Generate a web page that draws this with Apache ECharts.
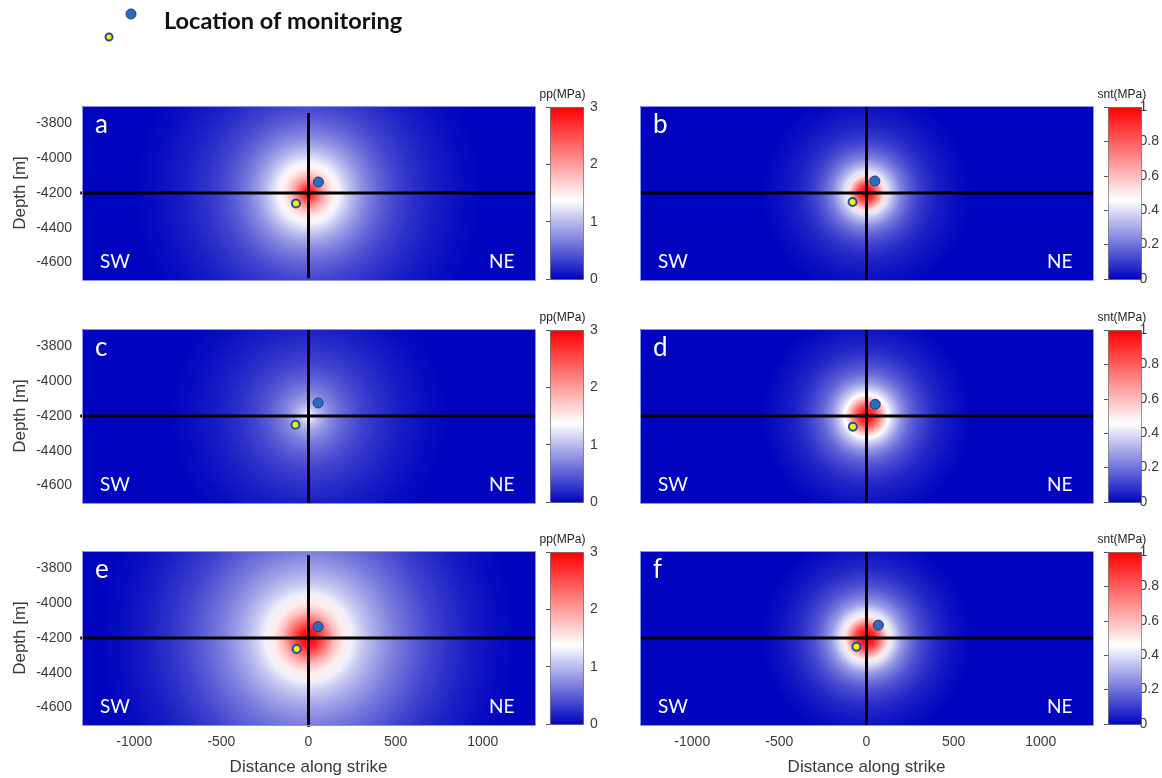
<!DOCTYPE html>
<html><head><meta charset="utf-8">
<script src="https://cdn.jsdelivr.net/npm/echarts@6/dist/echarts.min.js"></script>
<style>html,body{margin:0;padding:0;background:#fff}#chart{width:1162px;height:778px}</style>
</head><body><div id="chart"></div>
<script>
// ---------------- data ----------------
const panelLetters = ['a', 'b', 'c', 'd', 'e', 'f'];
const panelQuantity = ['pp', 'snt', 'pp', 'snt', 'pp', 'snt'];
const xTicks = [-1000, -500, 0, 500, 1000];
const yTicks = [-4600, -4400, -4200, -4000, -3800];
const ppTicks = [0, 1, 2, 3];
const sntTicks = [0, 0.2, 0.4, 0.6, 0.8, 1];
const xRange = [-1300, 1300];
const yRange = [-4700, -3700];
const sourcePoint = [0, -4200];

// radial profiles (distance from source [m] -> value [MPa])
const radiusA = [0, 25, 50, 75, 100, 125, 150, 175, 200, 250, 300, 350, 400, 450, 500, 600, 700, 800, 900, 1000];
const valueA  = [3.0, 2.75, 2.4, 2.05, 1.8, 1.6, 1.45, 1.32, 1.2, 0.98, 0.8, 0.66, 0.54, 0.44, 0.36, 0.24, 0.15, 0.09, 0.04, 0.0];
const radiusB = [0, 25, 50, 75, 100, 125, 150, 200, 250, 300, 350, 400, 500, 600];
const valueB  = [1.0, 0.95, 0.84, 0.68, 0.52, 0.41, 0.34, 0.23, 0.16, 0.11, 0.075, 0.05, 0.02, 0.0];
const radiusC = [0, 25, 50, 75, 100, 150, 200, 250, 300, 400, 500, 600, 700, 800];
const valueC  = [1.35, 1.22, 1.05, 0.92, 0.82, 0.66, 0.54, 0.44, 0.36, 0.24, 0.15, 0.09, 0.04, 0.0];
const radiusD = [0, 25, 50, 75, 100, 125, 150, 200, 250, 300, 350, 400, 500, 600];
const valueD  = [1.0, 0.95, 0.86, 0.72, 0.58, 0.46, 0.38, 0.26, 0.18, 0.13, 0.09, 0.06, 0.025, 0.0];
const radiusE = [0, 50, 100, 150, 200, 250, 300, 350, 400, 500, 600, 700, 800, 900, 1000, 1100, 1200];
const valueE  = [3.0, 2.8, 2.3, 1.8, 1.5, 1.3, 1.12, 0.98, 0.86, 0.66, 0.5, 0.36, 0.25, 0.16, 0.09, 0.04, 0.0];
const radiusF = [0, 25, 50, 75, 100, 125, 150, 200, 250, 300, 350, 400, 500, 600];
const valueF  = [1.0, 0.97, 0.9, 0.78, 0.63, 0.5, 0.41, 0.28, 0.2, 0.14, 0.1, 0.065, 0.025, 0.0];

// monitoring locations [distance, depth]
const bluePoints   = [[57, -4137], [48, -4131], [55, -4125], [50, -4133], [55, -4135], [68, -4126]];
const yellowPoints = [[-72, -4260], [-80, -4252], [-75, -4250], [-78, -4262], [-68, -4263], [-58, -4250]];

// crosshair lines
const hLines = [
  [[-1310, -4200], [1300, -4200]], [[-1300, -4200], [1300, -4200]],
  [[-1310, -4200], [1300, -4200]], [[-1300, -4200], [1300, -4200]],
  [[-1310, -4200], [1300, -4200]], [[-1300, -4200], [1300, -4200]]
];
const vLines = [
  [[0, -3740], [0, -4690]], [[0, -3700], [0, -4700]], [[0, -3700], [0, -4700]],
  [[0, -3700], [0, -4700]], [[0, -3725], [0, -4710]], [[0, -3700], [0, -4700]]
];

const profiles = [[radiusA, valueA], [radiusB, valueB], [radiusC, valueC], [radiusD, valueD], [radiusE, valueE], [radiusF, valueF]];

// ---------------- style / layout ----------------
const colLeft = [82, 640];
const panelW = 453, panelH = 174;
const rowTop = [106, 329, 551];
const cbLeft = [550, 1108], cbW = 33, cbH = 172;
const LOW = [0, 4, 190], MID = [255, 255, 255], HIGH = [255, 0, 0];
const WHITE_AT = 0.46;

function mix(a, b, t) {
  return 'rgb(' + a.map((v, i) => Math.round(v + (b[i] - v) * t)).join(',') + ')';
}
const rampColors = [];
for (let k = 0; k <= 50; k++) {
  const f = k / 50;
  rampColors.push(f <= WHITE_AT ? mix(LOW, MID, f / WHITE_AT) : mix(MID, HIGH, (f - WHITE_AT) / (1 - WHITE_AT)));
}
const bgColor = rampColors[0];
const font = 'Liberation Sans, Arial, sans-serif';
const calib = 'Lato, "Open Sans", sans-serif';
const plain = v => String(v);

const grids = [], xAxes = [], yAxes = [], series = [], visualMaps = [], graphics = [];
const cbGrids = [], cbX = [], cbY = [];

for (let p = 0; p < 6; p++) {
  const col = p % 2, row = Math.floor(p / 2);
  const left = colLeft[col], top = rowTop[row];
  grids.push({left: left, top: top, width: panelW, height: panelH, show: true,
    backgroundColor: bgColor, borderWidth: 0, containLabel: false});
  xAxes.push({type: 'value', gridIndex: p, min: xRange[0], max: xRange[1],
    axisLine: {show: false}, axisTick: {show: false}, splitLine: {show: false},
    axisLabel: {show: row === 2, customValues: xTicks, formatter: plain, color: '#3a3a3a', fontSize: 14, fontFamily: font, margin: 10},
    name: row === 2 ? 'Distance along strike' : '', nameLocation: 'middle', nameGap: 34,
    nameTextStyle: {color: '#3a3a3a', fontSize: 17, fontFamily: font}});
  yAxes.push({type: 'value', gridIndex: p, min: yRange[0], max: yRange[1],
    axisLine: {show: false}, axisTick: {show: false}, splitLine: {show: false},
    axisLabel: {show: col === 0, customValues: yTicks, formatter: plain, color: '#3a3a3a', fontSize: 14, fontFamily: font, margin: 10},
    name: col === 0 ? 'Depth [m]' : '', nameLocation: 'middle', nameGap: 53, nameRotate: 90,
    nameTextStyle: {color: '#3a3a3a', fontSize: 17, fontFamily: font}});

  const [radii, vals] = profiles[p];
  const ringIndex = series.length;
  series.push({
    type: 'custom', xAxisIndex: p, yAxisIndex: p, silent: true, clip: true, z: 1,
    dimensions: ['r', 'v'],
    data: radii.map((r, i) => [r, vals[i]]),
    renderItem: (params, api) => {
      const i = params.dataIndexInside;
      if (i >= radii.length - 1) return null;
      const c = api.coord(sourcePoint);
      const rIn = Math.abs(api.size([api.value(0), 0])[0]);
      const rOut = Math.abs(api.size([api.value(0, i + 1), 0])[0]);
      const c0 = api.visual('color');
      const c1 = api.visual('color', i + 1);
      return {
        type: 'circle', z2: 1000 - i,
        shape: {cx: c[0], cy: c[1], r: rOut},
        style: {fill: {type: 'radial', x: c[0], y: c[1], r: rOut, global: true,
          colorStops: [{offset: 0, color: c0}, {offset: rIn / rOut, color: c0}, {offset: 1, color: c1}]}}
      };
    }
  });
  series.push({type: 'line', xAxisIndex: p, yAxisIndex: p, data: hLines[p], symbol: 'none', silent: true, clip: false, z: 3,
    lineStyle: {color: '#000', width: 3}});
  series.push({type: 'line', xAxisIndex: p, yAxisIndex: p, data: vLines[p], symbol: 'none', silent: true, clip: false, z: 3,
    lineStyle: {color: '#000', width: 3}});
  series.push({type: 'scatter', xAxisIndex: p, yAxisIndex: p, data: [bluePoints[p]], symbolSize: 10, silent: true, z: 4,
    itemStyle: {color: '#2b6cc0', borderColor: '#173f78', borderWidth: 1, opacity: 1}});
  series.push({type: 'scatter', xAxisIndex: p, yAxisIndex: p, data: [yellowPoints[p]], symbolSize: 8, silent: true, z: 4,
    itemStyle: {color: '#fff000', borderColor: '#1d4f9c', borderWidth: 2, opacity: 1}});

  const isPP = panelQuantity[p] === 'pp';
  const vmax = isPP ? 3 : 1;
  visualMaps.push({type: 'continuous', seriesIndex: ringIndex, dimension: 1, min: 0, max: vmax,
    show: true, calculable: false, hoverLink: false, left: cbLeft[col], top: top + 1,
    itemWidth: cbW, itemHeight: cbH, padding: 0, borderWidth: 1, borderColor: '#5a5a5a',
    inRange: {color: rampColors}});

  // colorbar axis
  const g = 6 + p;
  cbGrids.push({left: cbLeft[col], top: top + 1, width: cbW, height: cbH, show: false});
  cbX.push({type: 'value', gridIndex: g, show: false, min: 0, max: 1});
  cbY.push({type: 'value', gridIndex: g, position: 'right', min: 0, max: vmax,
    axisLine: {show: false}, splitLine: {show: false},
    axisTick: {show: true, inside: true, length: 4, customValues: isPP ? ppTicks : sntTicks, lineStyle: {color: '#555'}},
    axisLabel: {customValues: isPP ? ppTicks : sntTicks, formatter: plain, color: '#3a3a3a', fontSize: 14, fontFamily: font, margin: 7}});

  graphics.push({type: 'rect', z: 50, shape: {x: left + 0.5, y: top + 0.5, width: panelW, height: panelH},
    style: {fill: 'none', stroke: '#8a94e4', lineWidth: 1}});
  graphics.push({type: 'text', z: 100, left: cbLeft[col] + cbW / 2 - 27, top: top - 17,
    style: {text: isPP ? 'pp(MPa)' : 'snt(MPa)', fill: '#222', font: '12px ' + font}});
  graphics.push({type: 'text', z: 100, left: left + 13, top: top + 6,
    style: {text: panelLetters[p], fill: '#fff', font: '26px ' + calib}});
  graphics.push({type: 'text', z: 100, left: left + 18, top: top + 146,
    style: {text: 'SW', fill: '#fff', font: '19px ' + calib}});
  graphics.push({type: 'text', z: 100, left: left + 407, top: top + 146,
    style: {text: 'NE', fill: '#fff', font: '19px ' + calib}});
}

// legend
graphics.push({type: 'circle', z: 100, shape: {cx: 131, cy: 14, r: 5}, style: {fill: '#2b6cc0', stroke: '#173f78', lineWidth: 1}});
graphics.push({type: 'circle', z: 100, shape: {cx: 109, cy: 37, r: 3.5}, style: {fill: '#fff000', stroke: '#1d4f9c', lineWidth: 2}});
graphics.push({type: 'text', z: 100, left: 164, top: 9,
  style: {text: 'Location of monitoring', fill: '#111', font: 'bold 23.5px ' + calib}});

const chart = echarts.init(document.getElementById('chart'), null, {renderer: 'canvas'});
chart.setOption({
  animation: false,
  backgroundColor: '#fff',
  grid: grids.concat(cbGrids), xAxis: xAxes.concat(cbX), yAxis: yAxes.concat(cbY),
  visualMap: visualMaps,
  series: series,
  graphic: graphics
});
</script></body></html>
